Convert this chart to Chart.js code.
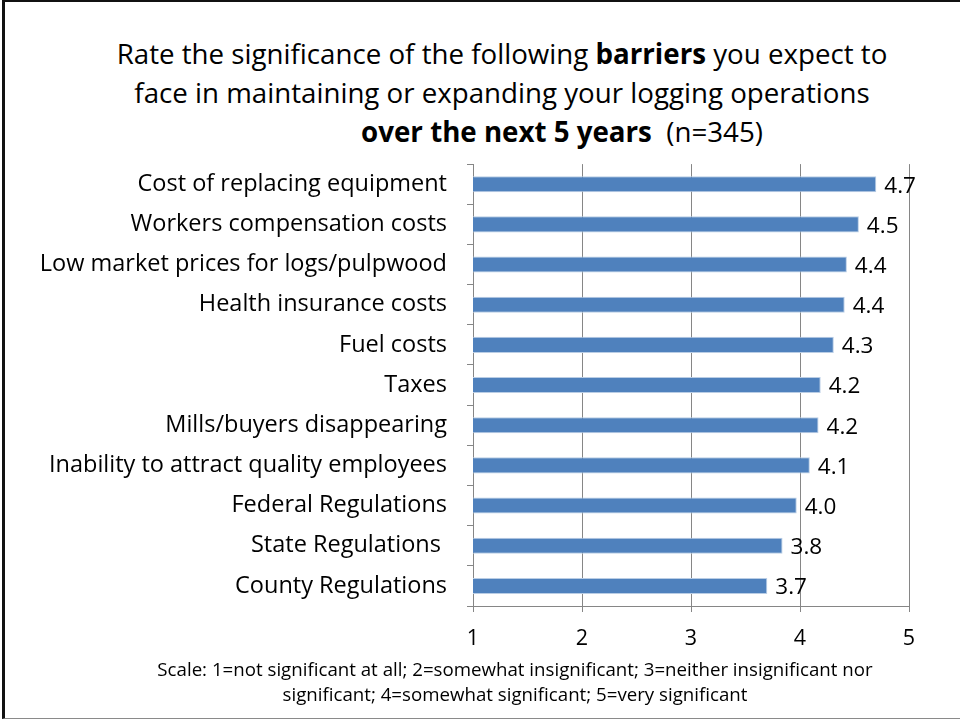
<!DOCTYPE html>
<html>
<head>
<meta charset="utf-8">
<script src="https://cdn.jsdelivr.net/npm/chart.js@4"></script>
<style>
    html, body { margin: 0; padding: 0; background: #fff; overflow: hidden; }
    #frame {
        position: absolute; left: 2px; top: 0px; width: 970px; height: 716px;
        border-left: 3px solid #111; border-top: 2px solid #111; border-bottom: 1px solid #8a8a8a;
    }
    #title {
        position: absolute; left: 0; top: 34px; width: 1004px; text-align: center;
        font-family: "Open Sans", Lato, sans-serif; font-size: 27.7px; line-height: 39px; color: #000;
    }
    #title .l3 { padding-left: 120px; }
    #note {
        position: absolute; left: 0; top: 656px; width: 1030px; text-align: center;
        font-family: "Open Sans", Lato, sans-serif; font-size: 18.7px; line-height: 25px; color: #000;
    }
    #wrap { position: absolute; left: 0; top: 130px; width: 960px; height: 532px; }
</style>
</head>
<body>
<div id="frame"></div>
<div id="title">
    Rate the significance of the following <b>barriers</b> you expect to<br>
    face in maintaining or expanding your logging operations<br>
    <span class="l3"><b>over the next 5 years</b>&nbsp;&nbsp;(n=345)</span>
</div>
<div id="wrap"><canvas id="barChart"></canvas></div>
<div id="note">
    Scale: 1=not significant at all; 2=somewhat insignificant; 3=neither insignificant nor<br>
    significant; 4=somewhat significant; 5=very significant
</div>
<script>
// Các rào cản (trục dọc)
var categories = [
    'Cost of replacing equipment',
    'Workers compensation costs',
    'Low market prices for logs/pulpwood',
    'Health insurance costs',
    'Fuel costs',
    'Taxes',
    'Mills/buyers disappearing',
    'Inability to attract quality employees',
    'Federal Regulations',
    'State Regulations ',
    'County Regulations'
];
// Điểm trung bình
var meanScores = [4.70, 4.54, 4.43, 4.41, 4.31, 4.19, 4.17, 4.09, 3.97, 3.84, 3.70];
var scaleTicks = [1, 2, 3, 4, 5];

var fontFamily = '"Open Sans", Lato, sans-serif';

// Plugin vẽ nhãn giá trị bên phải mỗi thanh
var valueLabels = {
    id: 'valueLabels',
    afterDatasetsDraw: function (chart) {
        var ctx = chart.ctx;
        var meta = chart.getDatasetMeta(0);
        ctx.save();
        ctx.font = '22.5px ' + fontFamily;
        ctx.fillStyle = '#000';
        ctx.textAlign = 'left';
        ctx.textBaseline = 'middle';
        meta.data.forEach(function (bar, i) {
            ctx.fillText(meanScores[i].toFixed(1), bar.x + 8, bar.y + 2);
        });
        ctx.restore();
    }
};

var ctx = document.getElementById('barChart').getContext('2d');
var barChartInstance = new Chart(ctx, {
    type: 'bar',
    data: {
        labels: categories,
        datasets: [{
            data: meanScores,
            backgroundColor: '#4F81BD',
            borderColor: '#B9CDE5',
            borderWidth: 1,
            barPercentage: 0.4,
            categoryPercentage: 1
        }]
    },
    options: {
        indexAxis: 'y',
        responsive: true,
        maintainAspectRatio: false,
        animation: false,
        layout: { padding: { top: 12, right: 51, left: 0, bottom: 0 } },
        plugins: { legend: { display: false }, tooltip: { enabled: false }, title: { display: false } },
        scales: {
            x: {
                min: 1, max: 5,
                afterBuildTicks: function (scale) { scale.ticks = scaleTicks.map(v => ({ value: v })); },
                afterFit: function (scale) { scale.height = 56; },
                grid: { color: '#868686', tickLength: 6, lineWidth: 1 },
                border: { color: '#868686' },
                ticks: { color: '#000', font: { family: fontFamily, size: 21.5 }, padding: 14 }
            },
            y: {
                afterFit: function (scale) { scale.width = 473; },
                grid: { offset: true, drawOnChartArea: false, color: '#868686', tickLength: 6 },
                border: { color: '#868686' },
                ticks: { color: '#000', font: { family: fontFamily, size: 23.5 }, padding: 20, autoSkip: false }
            }
        }
    },
    plugins: [valueLabels]
});
</script>
</body>
</html>
